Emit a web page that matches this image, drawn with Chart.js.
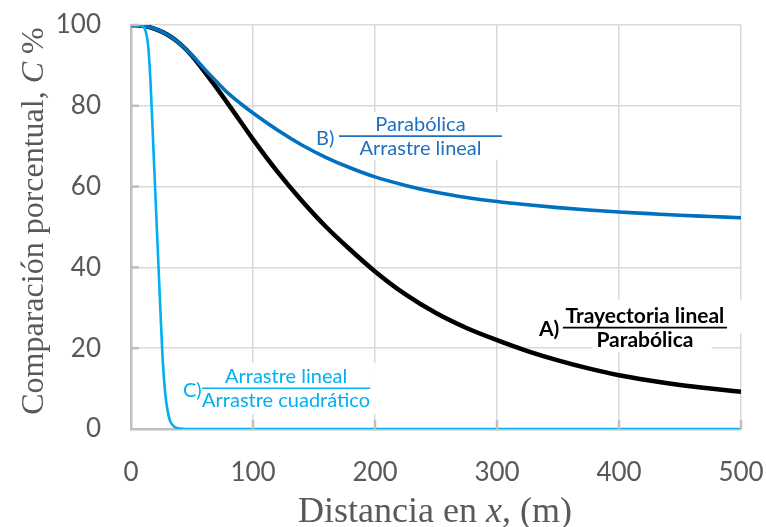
<!DOCTYPE html>
<html>
<head>
<meta charset="utf-8">
<script src="https://cdn.jsdelivr.net/npm/chart.js@4.4.1/dist/chart.umd.min.js"></script>
<style>
  html, body { margin: 0; padding: 0; background: #fff; }
  #wrap { width: 766px; height: 527px; position: relative; }
</style>
</head>
<body>
<div id="wrap"><canvas id="compareChart"></canvas></div>
<script>
// Distance values (m) shared by curves A and B
const distAB = [0, 10, 20, 30, 40, 50, 60, 70, 80, 90, 100, 120, 140, 160, 180, 200,
                225, 250, 275, 300, 325, 350, 375, 400, 425, 450, 475, 500];
// A) Trayectoria lineal / Parabólica
const pctA = [100, 99.8, 99, 97.6, 95.4, 92.4, 88.5, 84.5, 80.3, 76, 71.7, 63.7, 56.5, 50, 44.3, 39,
              33.3, 28.7, 25, 22, 19.3, 17, 15, 13.3, 12, 10.9, 10, 9.2];
// B) Parabólica / Arrastre lineal
const pctB = [100, 99.8, 99, 97.6, 95.4, 92.5, 89.2, 86, 83, 80.5, 78.2, 74, 70.3, 67.2, 64.6, 62.4,
              60.3, 58.6, 57.3, 56.3, 55.5, 54.8, 54.2, 53.7, 53.3, 52.9, 52.6, 52.3];
// C) Arrastre lineal / Arrastre cuadrático
const distC = [0, 5, 10, 12, 14, 16, 18, 20, 22, 24, 26, 28, 30, 32, 35, 40, 45, 50, 100, 200, 300, 400, 500];
const pctC = [100, 100, 99.6, 98.5, 95, 86, 72, 58, 44, 30, 17, 9, 4.5, 2, 0.7, 0.1, 0, 0, 0, 0, 0, 0, 0];

const xTicks = [0, 100, 200, 300, 400, 500];
const yTicks = [0, 20, 40, 60, 80, 100];

const toPoints = (xs, ys) => xs.map((x, i) => ({ x: x, y: ys[i] }));

const SANS = 'Lato, "Open Sans", sans-serif';
const SERIF = '"Liberation Serif", "DejaVu Serif", serif';
const GRAY_TEXT = '#595959';

// Fraction labels, anchored in data coordinates
const fracLabels = [
    { prefix: 'B)', num: 'Parabólica', den: 'Arrastre lineal', color: '#1f70c1', bold: false, size: 20,
      px: 151.6, x1: 170.5, x2: 304, y: 72.5, box: [[148, 78.5, 307.5, 66.6]] },
    { prefix: 'A)', num: 'Trayectoria lineal', den: 'Parabólica', color: '#000000', bold: true, size: 21,
      px: 334.4, x1: 354, x2: 488.5, y: 25.1, box: [[331, 31.9, 505, 23.8], [378, 23.8, 476, 19.1]] },
    { prefix: 'C)', num: 'Arrastre lineal', den: 'Arrastre cuadrático', color: '#00b0f0', bold: false, size: 20,
      px: 42.6, x1: 58.2, x2: 196, y: 10.1, box: [[40.2, 16.3, 200.8, 3.7]] }
];

const decorPlugin = {
    id: 'decor',
    beforeDatasetsDraw(chart) {
        const ctx = chart.ctx;
        const xs = chart.scales.x, ys = chart.scales.y;
        ctx.save();
        ctx.fillStyle = '#ffffff';
        fracLabels.forEach(l => {
            l.box.forEach(b => {
                const x0 = xs.getPixelForValue(b[0]), y0 = ys.getPixelForValue(b[1]);
                const x1 = xs.getPixelForValue(b[2]), y1 = ys.getPixelForValue(b[3]);
                ctx.fillRect(x0, y0, x1 - x0, y1 - y0);
            });
        });
        ctx.restore();
    },
    afterDraw(chart) {
        const ctx = chart.ctx;
        const area = chart.chartArea;
        const xs = chart.scales.x, ys = chart.scales.y;
        ctx.save();

        // small inner tick marks
        ctx.strokeStyle = '#bfbfbf';
        ctx.lineWidth = 2.5;
        yTicks.slice(1).forEach(v => {
            const y = ys.getPixelForValue(v);
            ctx.beginPath(); ctx.moveTo(area.left, y); ctx.lineTo(area.left + 8, y); ctx.stroke();
        });
        xTicks.slice(1).forEach(v => {
            const x = xs.getPixelForValue(v);
            ctx.beginPath(); ctx.moveTo(x, area.bottom); ctx.lineTo(x, area.bottom - 9); ctx.stroke();
        });

        // fraction labels
        fracLabels.forEach(l => {
            const weight = l.bold ? 'bold ' : '';
            const lx1 = xs.getPixelForValue(l.x1), lx2 = xs.getPixelForValue(l.x2);
            const ly = ys.getPixelForValue(l.y);
            const cx = (lx1 + lx2) / 2;
            ctx.fillStyle = l.color;
            ctx.strokeStyle = l.color;
            ctx.lineWidth = 1.6;
            ctx.beginPath(); ctx.moveTo(lx1, ly); ctx.lineTo(lx2, ly); ctx.stroke();
            ctx.font = weight + l.size + 'px ' + SANS;
            ctx.textAlign = 'center';
            ctx.textBaseline = 'alphabetic';
            ctx.fillText(l.num, cx, ly - 5);
            ctx.fillText(l.den, cx, ly + 19);
            ctx.textAlign = 'left';
            ctx.textBaseline = 'middle';
            ctx.fillText(l.prefix, xs.getPixelForValue(l.px), ly + 2);
        });

        // axis titles with italic variable
        ctx.fillStyle = GRAY_TEXT;
        ctx.textBaseline = 'alphabetic';
        ctx.textAlign = 'left';
        const drawParts = (parts, size) => {
            let w = 0;
            parts.forEach(p => { ctx.font = (p[1] ? 'italic ' : '') + size + 'px ' + SERIF; w += ctx.measureText(p[0]).width; });
            let x = -w / 2;
            parts.forEach(p => {
                ctx.font = (p[1] ? 'italic ' : '') + size + 'px ' + SERIF;
                ctx.fillText(p[0], x, 0);
                x += ctx.measureText(p[0]).width;
            });
        };
        ctx.save();
        ctx.translate(435, 522);
        drawParts([['Distancia en ', false], ['x', true], [', (m)', false]], 36);
        ctx.restore();
        ctx.save();
        ctx.translate(43, 221);
        ctx.rotate(-Math.PI / 2);
        drawParts([['Comparación porcentual, ', false], ['C', true], [' %', false]], 32);
        ctx.restore();

        ctx.restore();
    }
};

// drop label overhang so the plot area follows the layout padding exactly
const noOverhang = scale => {
    scale.paddingTop = 0; scale.paddingBottom = 0;
    scale.paddingLeft = 0; scale.paddingRight = 0;
};

const ctx = document.getElementById('compareChart').getContext('2d');
new Chart(ctx, {
    type: 'line',
    data: {
        datasets: [
            {
                label: 'C',
                data: toPoints(distC, pctC),
                borderColor: '#00b0f0',
                borderWidth: 2.6,
                cubicInterpolationMode: 'monotone',
                pointRadius: 0,
                fill: false
            },
            {
                label: 'B',
                data: toPoints(distAB, pctB),
                borderColor: '#0070c0',
                borderWidth: 3.6,
                cubicInterpolationMode: 'monotone',
                pointRadius: 0,
                fill: false
            },
            {
                label: 'A',
                data: toPoints(distAB, pctA),
                borderColor: '#000000',
                borderWidth: 4.5,
                cubicInterpolationMode: 'monotone',
                pointRadius: 0,
                fill: false
            }
        ]
    },
    options: {
        responsive: true,
        maintainAspectRatio: false,
        animation: false,
        layout: {
            padding: { left: 0, right: 25, top: 25, bottom: 0 }
        },
        plugins: {
            legend: { display: false },
            tooltip: { enabled: false }
        },
        scales: {
            x: {
                type: 'linear',
                min: 0,
                max: 500,
                afterFit: scale => { scale.height = 98; noOverhang(scale); },
                afterBuildTicks: scale => { scale.ticks = xTicks.map(v => ({ value: v })); },
                grid: { color: '#d9d9d9', lineWidth: 1.5, drawTicks: false },
                border: { color: '#bfbfbf', width: 2.5 },
                ticks: { color: GRAY_TEXT, font: { family: SANS, size: 26 }, padding: 28, maxRotation: 0 }
            },
            y: {
                min: 0,
                max: 100,
                afterFit: scale => { scale.width = 131; noOverhang(scale); },
                afterBuildTicks: scale => { scale.ticks = yTicks.map(v => ({ value: v })); },
                grid: { color: '#d9d9d9', lineWidth: 1.5, drawTicks: false },
                border: { color: '#bfbfbf', width: 2.5 },
                ticks: { color: GRAY_TEXT, font: { family: SANS, size: 26 }, padding: 30 }
            }
        }
    },
    plugins: [decorPlugin]
});
</script>
</body>
</html>
